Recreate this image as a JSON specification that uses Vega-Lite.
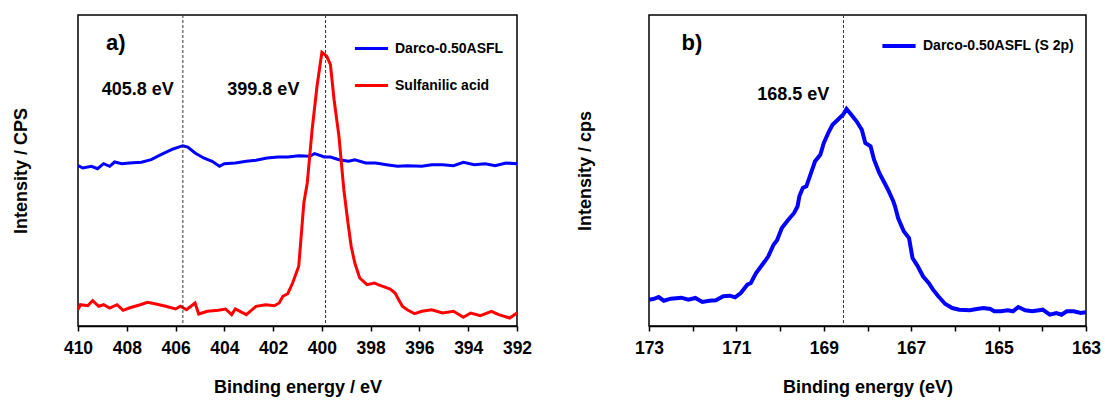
{
  "$schema": "https://vega.github.io/schema/vega-lite/v6.json",
  "padding": {"left": 11, "top": 13, "right": 5, "bottom": 5},
  "background": "white",
  "config": {
    "font": "Liberation Sans",
    "view": {"stroke": "black", "strokeWidth": 1.5},
    "axisX": {
      "labelFont": "Liberation Sans", "labelFontWeight": "bold", "labelFontSize": 17.5, "labelColor": "black",
      "domainColor": "black", "domainWidth": 1.5, "tickColor": "black", "tickSize": 5, "tickWidth": 1.5, "ticks": true,
      "labelPadding": 8, "grid": false, "titleFont": "Liberation Sans", "titleFontSize": 18, "titleFontWeight": "bold",
      "titleColor": "black", "titlePadding": 22, "labelFlush": false
    },
    "axisY": {
      "labels": false, "ticks": false, "domain": false, "grid": false, "titleFont": "Liberation Sans",
      "titleFontSize": 18, "titleFontWeight": "bold", "titleColor": "black"
    },
    "legend": {
      "title": null, "symbolType": "stroke", "symbolSize": 1100, "symbolStrokeWidth": 3,
      "labelFont": "Liberation Sans", "labelFontSize": 14, "labelFontWeight": "bold", "labelColor": "black",
      "rowPadding": 11, "labelOffset": 5
    }
  },
  "datasets": {
    "a": [
      {"E": 410, "I": 160.3, "series": "Darco-0.50ASFL"},
      {"E": 409.8, "I": 158, "series": "Darco-0.50ASFL"},
      {"E": 409.45, "I": 159.7, "series": "Darco-0.50ASFL"},
      {"E": 409.2, "I": 157.3, "series": "Darco-0.50ASFL"},
      {"E": 408.95, "I": 162.3, "series": "Darco-0.50ASFL"},
      {"E": 408.7, "I": 159.7, "series": "Darco-0.50ASFL"},
      {"E": 408.5, "I": 164, "series": "Darco-0.50ASFL"},
      {"E": 408.2, "I": 162.3, "series": "Darco-0.50ASFL"},
      {"E": 407.9, "I": 163, "series": "Darco-0.50ASFL"},
      {"E": 407.4, "I": 163.7, "series": "Darco-0.50ASFL"},
      {"E": 407.0, "I": 166.3, "series": "Darco-0.50ASFL"},
      {"E": 406.6, "I": 171.3, "series": "Darco-0.50ASFL"},
      {"E": 406.1, "I": 177, "series": "Darco-0.50ASFL"},
      {"E": 405.7, "I": 180.3, "series": "Darco-0.50ASFL"},
      {"E": 405.5, "I": 179, "series": "Darco-0.50ASFL"},
      {"E": 405.2, "I": 173, "series": "Darco-0.50ASFL"},
      {"E": 404.85, "I": 168, "series": "Darco-0.50ASFL"},
      {"E": 404.5, "I": 164.7, "series": "Darco-0.50ASFL"},
      {"E": 404.2, "I": 159.7, "series": "Darco-0.50ASFL"},
      {"E": 404.0, "I": 162.3, "series": "Darco-0.50ASFL"},
      {"E": 403.55, "I": 163, "series": "Darco-0.50ASFL"},
      {"E": 403.1, "I": 164.7, "series": "Darco-0.50ASFL"},
      {"E": 402.7, "I": 165.7, "series": "Darco-0.50ASFL"},
      {"E": 402.25, "I": 168, "series": "Darco-0.50ASFL"},
      {"E": 401.8, "I": 169, "series": "Darco-0.50ASFL"},
      {"E": 401.4, "I": 169, "series": "Darco-0.50ASFL"},
      {"E": 400.95, "I": 170.3, "series": "Darco-0.50ASFL"},
      {"E": 400.5, "I": 169.7, "series": "Darco-0.50ASFL"},
      {"E": 400.3, "I": 172.3, "series": "Darco-0.50ASFL"},
      {"E": 399.9, "I": 169, "series": "Darco-0.50ASFL"},
      {"E": 399.65, "I": 169, "series": "Darco-0.50ASFL"},
      {"E": 399.3, "I": 166.3, "series": "Darco-0.50ASFL"},
      {"E": 398.9, "I": 164.7, "series": "Darco-0.50ASFL"},
      {"E": 398.65, "I": 166.3, "series": "Darco-0.50ASFL"},
      {"E": 398.2, "I": 163, "series": "Darco-0.50ASFL"},
      {"E": 397.8, "I": 163, "series": "Darco-0.50ASFL"},
      {"E": 397.35, "I": 161.3, "series": "Darco-0.50ASFL"},
      {"E": 396.9, "I": 159.7, "series": "Darco-0.50ASFL"},
      {"E": 396.5, "I": 160.3, "series": "Darco-0.50ASFL"},
      {"E": 395.9, "I": 159.7, "series": "Darco-0.50ASFL"},
      {"E": 395.5, "I": 161.3, "series": "Darco-0.50ASFL"},
      {"E": 395.05, "I": 161.3, "series": "Darco-0.50ASFL"},
      {"E": 394.6, "I": 160.3, "series": "Darco-0.50ASFL"},
      {"E": 394.2, "I": 163.7, "series": "Darco-0.50ASFL"},
      {"E": 393.75, "I": 161.3, "series": "Darco-0.50ASFL"},
      {"E": 393.3, "I": 162.3, "series": "Darco-0.50ASFL"},
      {"E": 392.9, "I": 160.3, "series": "Darco-0.50ASFL"},
      {"E": 392.45, "I": 163, "series": "Darco-0.50ASFL"},
      {"E": 392, "I": 162.3, "series": "Darco-0.50ASFL"},
      {"E": 410, "I": 16.3, "series": "Sulfanilic acid"},
      {"E": 409.9, "I": 21.3, "series": "Sulfanilic acid"},
      {"E": 409.6, "I": 20.3, "series": "Sulfanilic acid"},
      {"E": 409.4, "I": 25.3, "series": "Sulfanilic acid"},
      {"E": 409.15, "I": 19.7, "series": "Sulfanilic acid"},
      {"E": 408.95, "I": 21.3, "series": "Sulfanilic acid"},
      {"E": 408.7, "I": 18, "series": "Sulfanilic acid"},
      {"E": 408.4, "I": 21.3, "series": "Sulfanilic acid"},
      {"E": 408.15, "I": 15.7, "series": "Sulfanilic acid"},
      {"E": 407.9, "I": 18, "series": "Sulfanilic acid"},
      {"E": 407.45, "I": 21.3, "series": "Sulfanilic acid"},
      {"E": 407.15, "I": 23.7, "series": "Sulfanilic acid"},
      {"E": 406.85, "I": 22.3, "series": "Sulfanilic acid"},
      {"E": 406.4, "I": 19.7, "series": "Sulfanilic acid"},
      {"E": 406.0, "I": 17, "series": "Sulfanilic acid"},
      {"E": 405.8, "I": 19.7, "series": "Sulfanilic acid"},
      {"E": 405.55, "I": 16.3, "series": "Sulfanilic acid"},
      {"E": 405.2, "I": 23, "series": "Sulfanilic acid"},
      {"E": 405.05, "I": 12, "series": "Sulfanilic acid"},
      {"E": 404.7, "I": 14.7, "series": "Sulfanilic acid"},
      {"E": 404.25, "I": 15.7, "series": "Sulfanilic acid"},
      {"E": 403.95, "I": 17, "series": "Sulfanilic acid"},
      {"E": 403.7, "I": 11.3, "series": "Sulfanilic acid"},
      {"E": 403.55, "I": 17, "series": "Sulfanilic acid"},
      {"E": 403.1, "I": 11.3, "series": "Sulfanilic acid"},
      {"E": 402.7, "I": 19.7, "series": "Sulfanilic acid"},
      {"E": 402.3, "I": 21.3, "series": "Sulfanilic acid"},
      {"E": 401.95, "I": 20.3, "series": "Sulfanilic acid"},
      {"E": 401.75, "I": 23, "series": "Sulfanilic acid"},
      {"E": 401.6, "I": 29.7, "series": "Sulfanilic acid"},
      {"E": 401.4, "I": 32.3, "series": "Sulfanilic acid"},
      {"E": 401.2, "I": 43, "series": "Sulfanilic acid"},
      {"E": 400.95, "I": 59.7, "series": "Sulfanilic acid"},
      {"E": 400.85, "I": 89.7, "series": "Sulfanilic acid"},
      {"E": 400.74, "I": 123, "series": "Sulfanilic acid"},
      {"E": 400.6, "I": 143, "series": "Sulfanilic acid"},
      {"E": 400.4, "I": 196.3, "series": "Sulfanilic acid"},
      {"E": 400.2, "I": 239.7, "series": "Sulfanilic acid"},
      {"E": 400.0, "I": 273.7, "series": "Sulfanilic acid"},
      {"E": 399.8, "I": 269.7, "series": "Sulfanilic acid"},
      {"E": 399.65, "I": 261.3, "series": "Sulfanilic acid"},
      {"E": 399.5, "I": 226.3, "series": "Sulfanilic acid"},
      {"E": 399.3, "I": 189.7, "series": "Sulfanilic acid"},
      {"E": 399.1, "I": 136.3, "series": "Sulfanilic acid"},
      {"E": 398.93, "I": 103, "series": "Sulfanilic acid"},
      {"E": 398.8, "I": 79.7, "series": "Sulfanilic acid"},
      {"E": 398.65, "I": 63, "series": "Sulfanilic acid"},
      {"E": 398.45, "I": 48, "series": "Sulfanilic acid"},
      {"E": 398.15, "I": 41.3, "series": "Sulfanilic acid"},
      {"E": 397.85, "I": 43, "series": "Sulfanilic acid"},
      {"E": 397.7, "I": 41.3, "series": "Sulfanilic acid"},
      {"E": 397.5, "I": 39.7, "series": "Sulfanilic acid"},
      {"E": 397.2, "I": 37, "series": "Sulfanilic acid"},
      {"E": 397.0, "I": 33, "series": "Sulfanilic acid"},
      {"E": 396.85, "I": 26.3, "series": "Sulfanilic acid"},
      {"E": 396.7, "I": 19.7, "series": "Sulfanilic acid"},
      {"E": 396.5, "I": 16.3, "series": "Sulfanilic acid"},
      {"E": 396.2, "I": 12.3, "series": "Sulfanilic acid"},
      {"E": 395.9, "I": 14.7, "series": "Sulfanilic acid"},
      {"E": 395.5, "I": 16.3, "series": "Sulfanilic acid"},
      {"E": 395.05, "I": 13, "series": "Sulfanilic acid"},
      {"E": 394.6, "I": 14.7, "series": "Sulfanilic acid"},
      {"E": 394.2, "I": 8.7, "series": "Sulfanilic acid"},
      {"E": 393.9, "I": 13, "series": "Sulfanilic acid"},
      {"E": 393.5, "I": 10.3, "series": "Sulfanilic acid"},
      {"E": 393.05, "I": 14.7, "series": "Sulfanilic acid"},
      {"E": 392.75, "I": 11.3, "series": "Sulfanilic acid"},
      {"E": 392.3, "I": 8, "series": "Sulfanilic acid"},
      {"E": 392, "I": 13, "series": "Sulfanilic acid"}
    ],
    "b": [
      {"E": 173, "I": 26.3, "series": "Darco-0.50ASFL (S 2p)"},
      {"E": 172.9, "I": 27, "series": "Darco-0.50ASFL (S 2p)"},
      {"E": 172.78, "I": 29, "series": "Darco-0.50ASFL (S 2p)"},
      {"E": 172.66, "I": 25.3, "series": "Darco-0.50ASFL (S 2p)"},
      {"E": 172.5, "I": 27.3, "series": "Darco-0.50ASFL (S 2p)"},
      {"E": 172.26, "I": 28.3, "series": "Darco-0.50ASFL (S 2p)"},
      {"E": 172.1, "I": 26.3, "series": "Darco-0.50ASFL (S 2p)"},
      {"E": 171.94, "I": 28, "series": "Darco-0.50ASFL (S 2p)"},
      {"E": 171.78, "I": 24, "series": "Darco-0.50ASFL (S 2p)"},
      {"E": 171.62, "I": 25.3, "series": "Darco-0.50ASFL (S 2p)"},
      {"E": 171.47, "I": 25.7, "series": "Darco-0.50ASFL (S 2p)"},
      {"E": 171.3, "I": 29.7, "series": "Darco-0.50ASFL (S 2p)"},
      {"E": 171.15, "I": 30.3, "series": "Darco-0.50ASFL (S 2p)"},
      {"E": 171.03, "I": 28.7, "series": "Darco-0.50ASFL (S 2p)"},
      {"E": 170.9, "I": 33, "series": "Darco-0.50ASFL (S 2p)"},
      {"E": 170.75, "I": 41.3, "series": "Darco-0.50ASFL (S 2p)"},
      {"E": 170.67, "I": 43, "series": "Darco-0.50ASFL (S 2p)"},
      {"E": 170.55, "I": 53, "series": "Darco-0.50ASFL (S 2p)"},
      {"E": 170.35, "I": 64.7, "series": "Darco-0.50ASFL (S 2p)"},
      {"E": 170.27, "I": 69.7, "series": "Darco-0.50ASFL (S 2p)"},
      {"E": 170.15, "I": 81.3, "series": "Darco-0.50ASFL (S 2p)"},
      {"E": 170.07, "I": 85.7, "series": "Darco-0.50ASFL (S 2p)"},
      {"E": 169.96, "I": 98, "series": "Darco-0.50ASFL (S 2p)"},
      {"E": 169.84, "I": 104.7, "series": "Darco-0.50ASFL (S 2p)"},
      {"E": 169.68, "I": 113, "series": "Darco-0.50ASFL (S 2p)"},
      {"E": 169.6, "I": 119.7, "series": "Darco-0.50ASFL (S 2p)"},
      {"E": 169.56, "I": 129.7, "series": "Darco-0.50ASFL (S 2p)"},
      {"E": 169.48, "I": 138, "series": "Darco-0.50ASFL (S 2p)"},
      {"E": 169.4, "I": 139.7, "series": "Darco-0.50ASFL (S 2p)"},
      {"E": 169.32, "I": 149.7, "series": "Darco-0.50ASFL (S 2p)"},
      {"E": 169.2, "I": 164.7, "series": "Darco-0.50ASFL (S 2p)"},
      {"E": 169.08, "I": 171.3, "series": "Darco-0.50ASFL (S 2p)"},
      {"E": 169.0, "I": 183, "series": "Darco-0.50ASFL (S 2p)"},
      {"E": 168.88, "I": 194.7, "series": "Darco-0.50ASFL (S 2p)"},
      {"E": 168.8, "I": 201.3, "series": "Darco-0.50ASFL (S 2p)"},
      {"E": 168.68, "I": 206.3, "series": "Darco-0.50ASFL (S 2p)"},
      {"E": 168.56, "I": 211.3, "series": "Darco-0.50ASFL (S 2p)"},
      {"E": 168.48, "I": 217, "series": "Darco-0.50ASFL (S 2p)"},
      {"E": 168.37, "I": 211.3, "series": "Darco-0.50ASFL (S 2p)"},
      {"E": 168.25, "I": 204.7, "series": "Darco-0.50ASFL (S 2p)"},
      {"E": 168.13, "I": 196.3, "series": "Darco-0.50ASFL (S 2p)"},
      {"E": 168.05, "I": 183, "series": "Darco-0.50ASFL (S 2p)"},
      {"E": 167.93, "I": 179.7, "series": "Darco-0.50ASFL (S 2p)"},
      {"E": 167.85, "I": 166.3, "series": "Darco-0.50ASFL (S 2p)"},
      {"E": 167.73, "I": 153, "series": "Darco-0.50ASFL (S 2p)"},
      {"E": 167.61, "I": 143, "series": "Darco-0.50ASFL (S 2p)"},
      {"E": 167.53, "I": 136.3, "series": "Darco-0.50ASFL (S 2p)"},
      {"E": 167.41, "I": 124.7, "series": "Darco-0.50ASFL (S 2p)"},
      {"E": 167.37, "I": 119.7, "series": "Darco-0.50ASFL (S 2p)"},
      {"E": 167.3, "I": 108, "series": "Darco-0.50ASFL (S 2p)"},
      {"E": 167.17, "I": 94.7, "series": "Darco-0.50ASFL (S 2p)"},
      {"E": 167.05, "I": 88, "series": "Darco-0.50ASFL (S 2p)"},
      {"E": 166.97, "I": 68, "series": "Darco-0.50ASFL (S 2p)"},
      {"E": 166.85, "I": 59.7, "series": "Darco-0.50ASFL (S 2p)"},
      {"E": 166.73, "I": 49.7, "series": "Darco-0.50ASFL (S 2p)"},
      {"E": 166.6, "I": 43, "series": "Darco-0.50ASFL (S 2p)"},
      {"E": 166.5, "I": 36.3, "series": "Darco-0.50ASFL (S 2p)"},
      {"E": 166.38, "I": 29.7, "series": "Darco-0.50ASFL (S 2p)"},
      {"E": 166.22, "I": 22, "series": "Darco-0.50ASFL (S 2p)"},
      {"E": 166.06, "I": 18, "series": "Darco-0.50ASFL (S 2p)"},
      {"E": 165.9, "I": 16.3, "series": "Darco-0.50ASFL (S 2p)"},
      {"E": 165.66, "I": 15.7, "series": "Darco-0.50ASFL (S 2p)"},
      {"E": 165.5, "I": 17, "series": "Darco-0.50ASFL (S 2p)"},
      {"E": 165.35, "I": 18, "series": "Darco-0.50ASFL (S 2p)"},
      {"E": 165.19, "I": 17, "series": "Darco-0.50ASFL (S 2p)"},
      {"E": 165.1, "I": 14.7, "series": "Darco-0.50ASFL (S 2p)"},
      {"E": 164.95, "I": 14.7, "series": "Darco-0.50ASFL (S 2p)"},
      {"E": 164.79, "I": 15.7, "series": "Darco-0.50ASFL (S 2p)"},
      {"E": 164.67, "I": 14.7, "series": "Darco-0.50ASFL (S 2p)"},
      {"E": 164.55, "I": 19, "series": "Darco-0.50ASFL (S 2p)"},
      {"E": 164.39, "I": 15.7, "series": "Darco-0.50ASFL (S 2p)"},
      {"E": 164.23, "I": 14.7, "series": "Darco-0.50ASFL (S 2p)"},
      {"E": 163.99, "I": 16.3, "series": "Darco-0.50ASFL (S 2p)"},
      {"E": 163.83, "I": 11.3, "series": "Darco-0.50ASFL (S 2p)"},
      {"E": 163.68, "I": 13, "series": "Darco-0.50ASFL (S 2p)"},
      {"E": 163.56, "I": 11.3, "series": "Darco-0.50ASFL (S 2p)"},
      {"E": 163.44, "I": 14.7, "series": "Darco-0.50ASFL (S 2p)"},
      {"E": 163.28, "I": 14.7, "series": "Darco-0.50ASFL (S 2p)"},
      {"E": 163.12, "I": 13, "series": "Darco-0.50ASFL (S 2p)"},
      {"E": 163, "I": 13.7, "series": "Darco-0.50ASFL (S 2p)"}
    ],
    "ruleA": [{"E": 405.7}, {"E": 399.85}],
    "ruleB": [{"E": 168.55}],
    "labA": [{"E": 407.55, "I": 236, "label": "405.8 eV"}, {"E": 402.4, "I": 236, "label": "399.8 eV"}],
    "panA": [{"E": 408.45, "I": 283, "label": "a)"}],
    "labB": [{"E": 169.7, "I": 231, "label": "168.5 eV"}],
    "panB": [{"E": 172.02, "I": 283, "label": "b)"}]
  },
  "hconcat": [
    {
      "width": 439,
      "height": 311,
      "layer": [
        {
          "data": {"name": "a"},
          "mark": {"type": "line", "strokeWidth": 3},
          "encoding": {
            "x": {"field": "E", "type": "quantitative",
              "scale": {"domain": [392, 410], "reverse": true, "nice": false, "zero": false},
              "axis": {"title": "Binding energy / eV", "values": [392,393,394,395,396,397,398,399,400,401,402,403,404,405,406,407,408,409,410],
                "labelExpr": "datum.value % 2 == 0 ? datum.label : ''"}},
            "y": {"field": "I", "type": "quantitative", "scale": {"domain": [0, 311], "nice": false},
              "axis": {"title": "Intensity / CPS", "titlePadding": 48}},
            "color": {"field": "series", "type": "nominal",
              "scale": {"domain": ["Darco-0.50ASFL", "Sulfanilic acid"], "range": ["#0000FF", "#FF0000"]},
              "legend": {"orient": "none", "legendX": 275, "legendY": 15}}
          }
        },
        {
          "data": {"name": "ruleA"},
          "mark": {"type": "rule", "strokeDash": [3, 2], "color": "#333333", "strokeWidth": 1},
          "encoding": {"x": {"field": "E", "type": "quantitative"}}
        },
        {
          "data": {"name": "labA"},
          "mark": {"type": "text", "fontWeight": "bold", "fontSize": 18, "font": "Liberation Sans", "color": "black"},
          "encoding": {
            "x": {"field": "E", "type": "quantitative"},
            "y": {"field": "I", "type": "quantitative"},
            "text": {"field": "label"}
          }
        },
        {
          "data": {"name": "panA"},
          "mark": {"type": "text", "fontWeight": "bold", "fontSize": 22, "font": "Liberation Sans", "color": "black"},
          "encoding": {
            "x": {"field": "E", "type": "quantitative"},
            "y": {"field": "I", "type": "quantitative"},
            "text": {"field": "label"}
          }
        }
      ]
    },
    {
      "width": 437,
      "height": 311,
      "layer": [
        {
          "data": {"name": "b"},
          "mark": {"type": "line", "strokeWidth": 4},
          "encoding": {
            "x": {"field": "E", "type": "quantitative",
              "scale": {"domain": [163, 173], "reverse": true, "nice": false, "zero": false},
              "axis": {"title": "Binding energy (eV)", "values": [163,164,165,166,167,168,169,170,171,172,173],
                "labelExpr": "datum.value % 2 == 1 ? datum.label : ''"}},
            "y": {"field": "I", "type": "quantitative", "scale": {"domain": [0, 311], "nice": false},
              "axis": {"title": "Intensity / cps", "titlePadding": 55}},
            "color": {"field": "series", "type": "nominal",
              "scale": {"domain": ["Darco-0.50ASFL (S 2p)"], "range": ["#0000FF"]},
              "legend": {"orient": "none", "legendX": 231, "legendY": 12, "symbolStrokeWidth": 4}}
          }
        },
        {
          "data": {"name": "ruleB"},
          "mark": {"type": "rule", "strokeDash": [3, 2], "color": "#333333", "strokeWidth": 1},
          "encoding": {"x": {"field": "E", "type": "quantitative"}}
        },
        {
          "data": {"name": "labB"},
          "mark": {"type": "text", "fontWeight": "bold", "fontSize": 18, "font": "Liberation Sans", "color": "black"},
          "encoding": {
            "x": {"field": "E", "type": "quantitative"},
            "y": {"field": "I", "type": "quantitative"},
            "text": {"field": "label"}
          }
        },
        {
          "data": {"name": "panB"},
          "mark": {"type": "text", "fontWeight": "bold", "fontSize": 22, "font": "Liberation Sans", "color": "black"},
          "encoding": {
            "x": {"field": "E", "type": "quantitative"},
            "y": {"field": "I", "type": "quantitative"},
            "text": {"field": "label"}
          }
        }
      ]
    }
  ],
  "spacing": 42,
  "resolve": {"scale": {"color": "independent"}, "legend": {"color": "independent"}}
}
